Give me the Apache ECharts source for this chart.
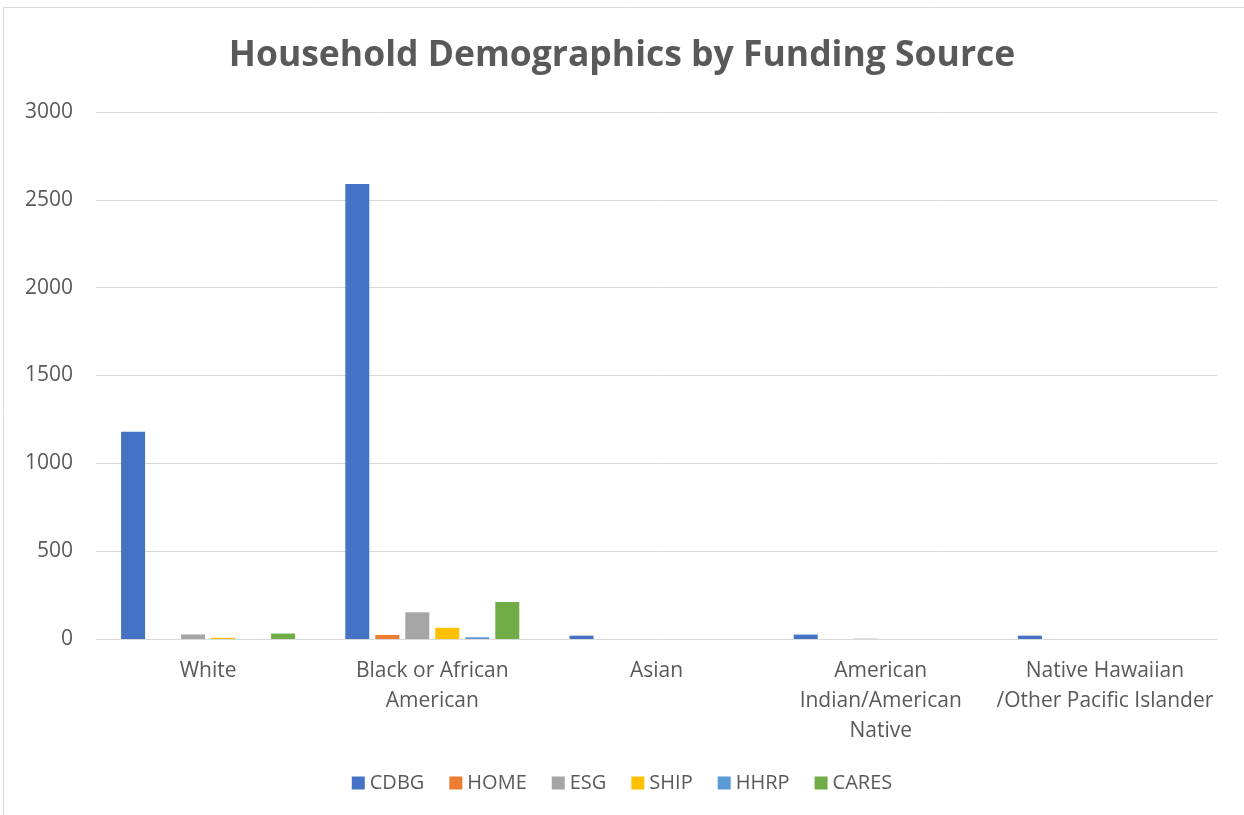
<!DOCTYPE html>
<html>
<head>
<meta charset="utf-8">
<script src="https://cdn.jsdelivr.net/npm/echarts@6/dist/echarts.min.js"></script>
<style>
  html, body { margin: 0; padding: 0; background: #fff; }
  #chart { width: 1244px; height: 815px; }
</style>
</head>
<body>
<div id="chart"></div>
<script>
// Categories and values
const categories = [
  'White',
  'Black or African\nAmerican',
  'Asian',
  'American\nIndian/American\nNative',
  'Native Hawaiian\n/Other Pacific Islander'
]
const cdbg = [1180, 2590, 19, 25, 19]
const home = [0, 23, 0, 0, 0]
const esg = [26, 152, 0, 2, 0]
const ship = [7, 64, 0, 0, 0]
const hhrp = [0, 10, 0, 0, 0]
const cares = [31, 210, 0, 0, 0]
const yTicks = [0, 500, 1000, 1500, 2000, 2500, 3000]

const TEXT = '#595959'
const FONT = '"Open Sans", "Liberation Sans", sans-serif'

const seriesDefs = [
  { name: 'CDBG', color: '#4472c4', data: cdbg },
  { name: 'HOME', color: '#ed7d31', data: home },
  { name: 'ESG', color: '#a5a5a5', data: esg },
  { name: 'SHIP', color: '#ffc000', data: ship },
  { name: 'HHRP', color: '#5b9bd5', data: hhrp },
  { name: 'CARES', color: '#70ad47', data: cares },
]

const chart = echarts.init(document.getElementById('chart'))
chart.setOption({
  animation: false,
  backgroundColor: '#fff',
  textStyle: { fontFamily: FONT },
  graphic: [{
    type: 'rect',
    shape: { x: 3.5, y: 7.5, width: 1300, height: 900 },
    style: { fill: 'none', stroke: '#d9d9d9', lineWidth: 1 },
    silent: true,
    z: -10
  }],
  title: {
    text: 'Household Demographics by Funding Source',
    left: 'center',
    top: 33,
    textStyle: { color: TEXT, fontSize: 35.5, fontWeight: 'bold', fontFamily: FONT }
  },
  legend: {
    bottom: 17,
    left: 'center',
    itemWidth: 13,
    itemHeight: 13,
    itemGap: 25,
    icon: 'rect',
    textStyle: { color: TEXT, fontSize: 20, fontFamily: FONT },
    data: seriesDefs.map((s) => s.name)
  },
  grid: { left: 96, right: 27, top: 112, bottom: 176 },
  xAxis: {
    type: 'category',
    data: categories,
    axisLine: { lineStyle: { color: '#d9d9d9', width: 1 } },
    axisTick: { show: false },
    axisLabel: { color: TEXT, fontSize: 21, lineHeight: 30, margin: 17, interval: 0, fontFamily: FONT }
  },
  yAxis: {
    type: 'value',
    min: yTicks[0],
    max: yTicks[yTicks.length - 1],
    interval: 500,
    axisLine: { show: false },
    axisTick: { show: false },
    axisLabel: {
      color: TEXT, fontSize: 21, margin: 23, fontFamily: FONT,
      formatter: (v) => String(v)
    },
    splitLine: { lineStyle: { color: '#d9d9d9', width: 1 } }
  },
  series: seriesDefs.map((s) => ({
    name: s.name,
    type: 'bar',
    data: s.data,
    barWidth: 24,
    barGap: '25%',
    itemStyle: { color: s.color }
  }))
})
</script>
</body>
</html>
